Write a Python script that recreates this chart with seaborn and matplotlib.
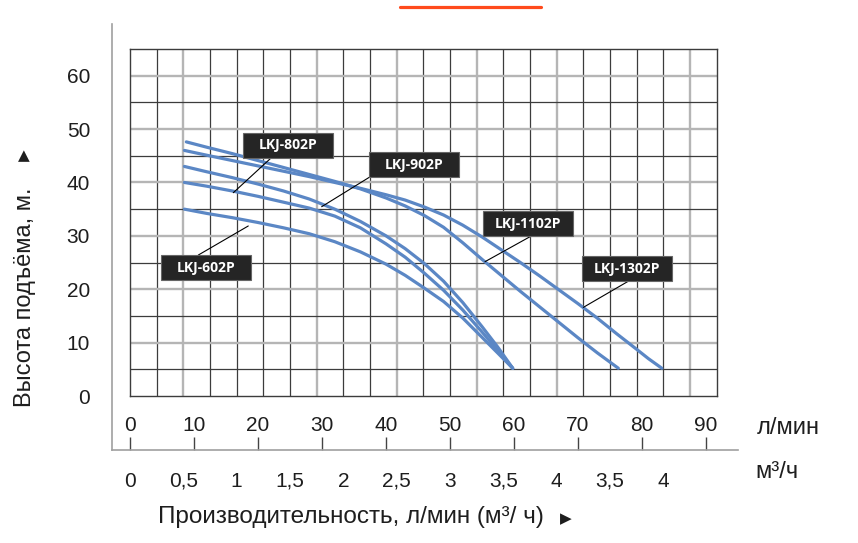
import numpy as np
import pandas as pd
import matplotlib
matplotlib.use("Agg")
import matplotlib.pyplot as plt
import seaborn as sns
from matplotlib.patches import Rectangle
from matplotlib.lines import Line2D

# ---------------- data (flow in l/min, head in m) ----------------
models = ["LKJ-602P", "LKJ-802P", "LKJ-902P", "LKJ-1102P", "LKJ-1302P"]

q_602 = [8.5, 12, 16, 20, 24, 28, 32, 36, 40, 43, 46, 49, 52, 55, 57.5, 59.8]
h_602 = [35.0, 34.2, 33.4, 32.5, 31.5, 30.4, 28.9, 27.0, 24.7, 22.6, 20.2, 17.7, 14.6, 11.0, 8.0, 5.2]

q_802 = [8.5, 12, 16, 20, 24, 28, 32, 36, 40, 43, 46, 49, 52, 55, 57.5, 59.8]
h_802 = [40.0, 39.3, 38.4, 37.4, 36.3, 35.2, 33.7, 31.5, 28.5, 26.0, 23.0, 19.8, 16.1, 12.0, 8.5, 5.2]

q_902 = [8.5, 12, 16, 20, 24, 28, 32, 36, 40, 43, 46, 49, 52, 55, 57.5, 59.8]
h_902 = [43.0, 42.0, 40.9, 39.7, 38.4, 36.9, 35.0, 32.7, 30.0, 27.6, 24.8, 21.5, 17.5, 13.0, 9.1, 5.2]

q_1102 = [8.8, 12, 16, 20, 24, 28, 32, 36, 40, 43, 46, 49, 52, 55, 58, 61, 64, 67, 70, 73, 76.3]
h_1102 = [47.6, 46.6, 45.4, 44.1, 42.8, 41.5, 40.2, 38.8, 37.1, 35.6, 33.8, 31.6, 28.7,
          25.6, 22.6, 19.6, 16.7, 13.8, 10.9, 8.1, 5.2]

q_1302 = [8.5, 12, 16, 20, 24, 28, 32, 36, 40, 43, 46, 49, 52, 55, 58, 61, 64, 67, 70,
          73, 76, 79, 81, 83.1]
h_1302 = [46.0, 45.1, 44.1, 43.1, 42.1, 41.1, 40.0, 38.9, 37.7, 36.7, 35.4, 33.9, 32.0,
          29.8, 27.4, 25.0, 22.5, 19.9, 17.3, 14.6, 11.7, 8.9, 7.0, 5.2]

lpm_ticks = [0, 10, 20, 30, 40, 50, 60, 70, 80, 90]
m3h_ticks = [0, 0.5, 1, 1.5, 2, 2.5, 3, 3.5, 4, 4.5, 5]
m3h_labels = ["0", "0,5", "1", "1,5", "2", "2,5", "3", "3,5", "4", "3,5", "4"]
head_ticks = [0, 10, 20, 30, 40, 50, 60]

series = {
    "LKJ-602P": (q_602, h_602),
    "LKJ-802P": (q_802, h_802),
    "LKJ-902P": (q_902, h_902),
    "LKJ-1102P": (q_1102, h_1102),
    "LKJ-1302P": (q_1302, h_1302),
}
df = pd.concat(
    [pd.DataFrame({"model": m, "q": series[m][0], "h": series[m][1]}) for m in models],
    ignore_index=True,
)

# label boxes: centre, leader start, leader tip (data coords)
label_pos = {
    "LKJ-802P": ((24.73, 47.0), (22.14, 44.7), (16.14, 38.08)),
    "LKJ-902P": ((44.42, 43.3), (37.39, 40.97), (29.95, 35.46)),
    "LKJ-602P": ((11.83, 24.0), (10.67, 26.4), (18.48, 31.85)),
    "LKJ-1102P": ((62.14, 32.25), (62.5, 29.84), (55.47, 25.16)),
    "LKJ-1302P": ((77.7, 23.8), (77.86, 21.5), (70.83, 16.6)),
}

# ---------------- styling ----------------
sns.set_theme(style="white")
plt.rcParams["font.family"] = ["Liberation Sans", "DejaVu Sans"]

W, H = 858, 543
fig = plt.figure(figsize=(W / 100, H / 100), dpi=100)
fig.patch.set_facecolor("white")

PX_Q = 6.4            # px per l/min
PX_H = 347 / 65.0     # px per m
step = 1000 / 60 / 4  # 0.25 m3/h in l/min

# main plot area
ax = fig.add_axes([130 / W, (H - 396) / H, 586.67 / W, 347 / H])
sns.lineplot(data=df, x="q", y="h", units="model", estimator=None, sort=False,
             color="#5b87c5", lw=2.3, ax=ax, legend=False, zorder=3)
ax.set_xlim(0, 22 * step)
ax.set_ylim(0, 65)
ax.set_xlabel("")
ax.set_ylabel("")

gray_idx = [2, 7, 10, 13, 16, 21]
ax.set_xticks([k * step for k in gray_idx])
ax.set_xticks([k * step for k in range(1, 22) if k not in gray_idx], minor=True)
ax.set_yticks([10, 20, 30, 40, 50, 60])
ax.set_yticks([5, 15, 25, 35, 45, 55], minor=True)
ax.tick_params(which="both", length=0, labelbottom=False, labelleft=False)
ax.grid(which="major", color="#b5b5b5", lw=1.7)
ax.grid(which="minor", color="#3c3c3c", lw=0.9)
ax.set_axisbelow(True)
for s in ax.spines.values():
    s.set_color("#3c3c3c")
    s.set_linewidth(1.0)

# model label boxes
bw, bh = 90 / PX_Q, 25 / PX_H
for m in models:
    (cx, cy), (sx, sy), (tx, ty) = label_pos[m]
    ax.add_patch(Rectangle((cx - bw / 2, cy - bh / 2), bw, bh, facecolor="#252525",
                           edgecolor="#666666", lw=0.8, zorder=5))
    ax.text(cx, cy, m, color="white", ha="center", va="center", fontsize=10,
            fontweight="bold", family=["Open Sans", "DejaVu Sans"], zorder=6)
    ax.annotate("", xy=(tx, ty), xytext=(sx, sy),
                arrowprops=dict(arrowstyle="-", color="black", lw=0.8,
                                shrinkA=0, shrinkB=0), zorder=4)

# head scale (left)
axh = fig.add_axes([112 / W, (H - 450) / H, 1e-6, 426 / H])
axh.set_ylim((396 - 450) / PX_H, (396 - 24) / PX_H)
axh.set_xticks([])
axh.set_yticks(head_ticks)
axh.set_yticklabels([str(t) for t in head_ticks])
axh.tick_params(axis="y", direction="inout", length=18, width=1.6, color="#b0b0b0",
                labelsize=15, labelcolor="#1e1e1e", pad=6.8)
for k in ["right", "top", "bottom"]:
    axh.spines[k].set_visible(False)
axh.spines["left"].set_color("#a0a0a0")
axh.spines["left"].set_linewidth(1.2)
axh.patch.set_alpha(0)

# flow scale (bottom)
axf = fig.add_axes([112 / W, (H - 450) / H, 626 / W, 1e-6])
axf.set_xlim((112 - 130) / PX_Q, (738 - 130) / PX_Q)
axf.set_yticks([])
m3_pos = [v * 1000 / 60 for v in m3h_ticks]
axf.set_xticks(m3_pos)
axf.set_xticklabels(m3h_labels)
axf.tick_params(axis="x", direction="out", length=9.6, width=1.0, color="#777777",
                labelsize=15, labelcolor="#1e1e1e", pad=6.0)
for k in ["right", "top", "left"]:
    axf.spines[k].set_visible(False)
axf.spines["bottom"].set_color("#a0a0a0")
axf.spines["bottom"].set_linewidth(1.2)
axf.patch.set_alpha(0)

sec = axf.secondary_xaxis("top", functions=(lambda x: x, lambda x: x))
sec.set_xticks(lpm_ticks)
sec.set_xticklabels([str(t) for t in lpm_ticks])
sec.tick_params(axis="x", direction="out", length=9.6, width=1.0, color="#444444",
                labelsize=15, labelcolor="#1e1e1e", pad=1.5)
sec.spines["top"].set_visible(False)

# texts
tc = "#1e1e1e"
fig.text(757 / W, 1 - 428 / H, "л/мин", ha="left", va="center", fontsize=17, color=tc)
fig.text(755 / W, 1 - 472 / H, "м³/ч", ha="left", va="center", fontsize=17, color=tc)
fig.text(158 / W, 1 - 517 / H, "Производительность, л/мин (м³/ ч)", ha="left",
         va="center", fontsize=17.5, color=tc)
fig.text(566 / W, 1 - 519 / H, "▶", ha="center", va="center", fontsize=11, color=tc,
         family=["DejaVu Sans"])
fig.text(25 / W, 1 - 297 / H, "Высота подъёма, м.", rotation=90, ha="center",
         va="center", fontsize=17, color=tc)
fig.text(24 / W, 1 - 156 / H, "▲", ha="center", va="center", fontsize=11, color=tc,
         family=["DejaVu Sans"])

fig.add_artist(Line2D([400 / W, 541 / W], [1 - 7 / H, 1 - 7 / H], color="#ff4a1c", lw=2.3))

fig.savefig("out.png", dpi=100)
